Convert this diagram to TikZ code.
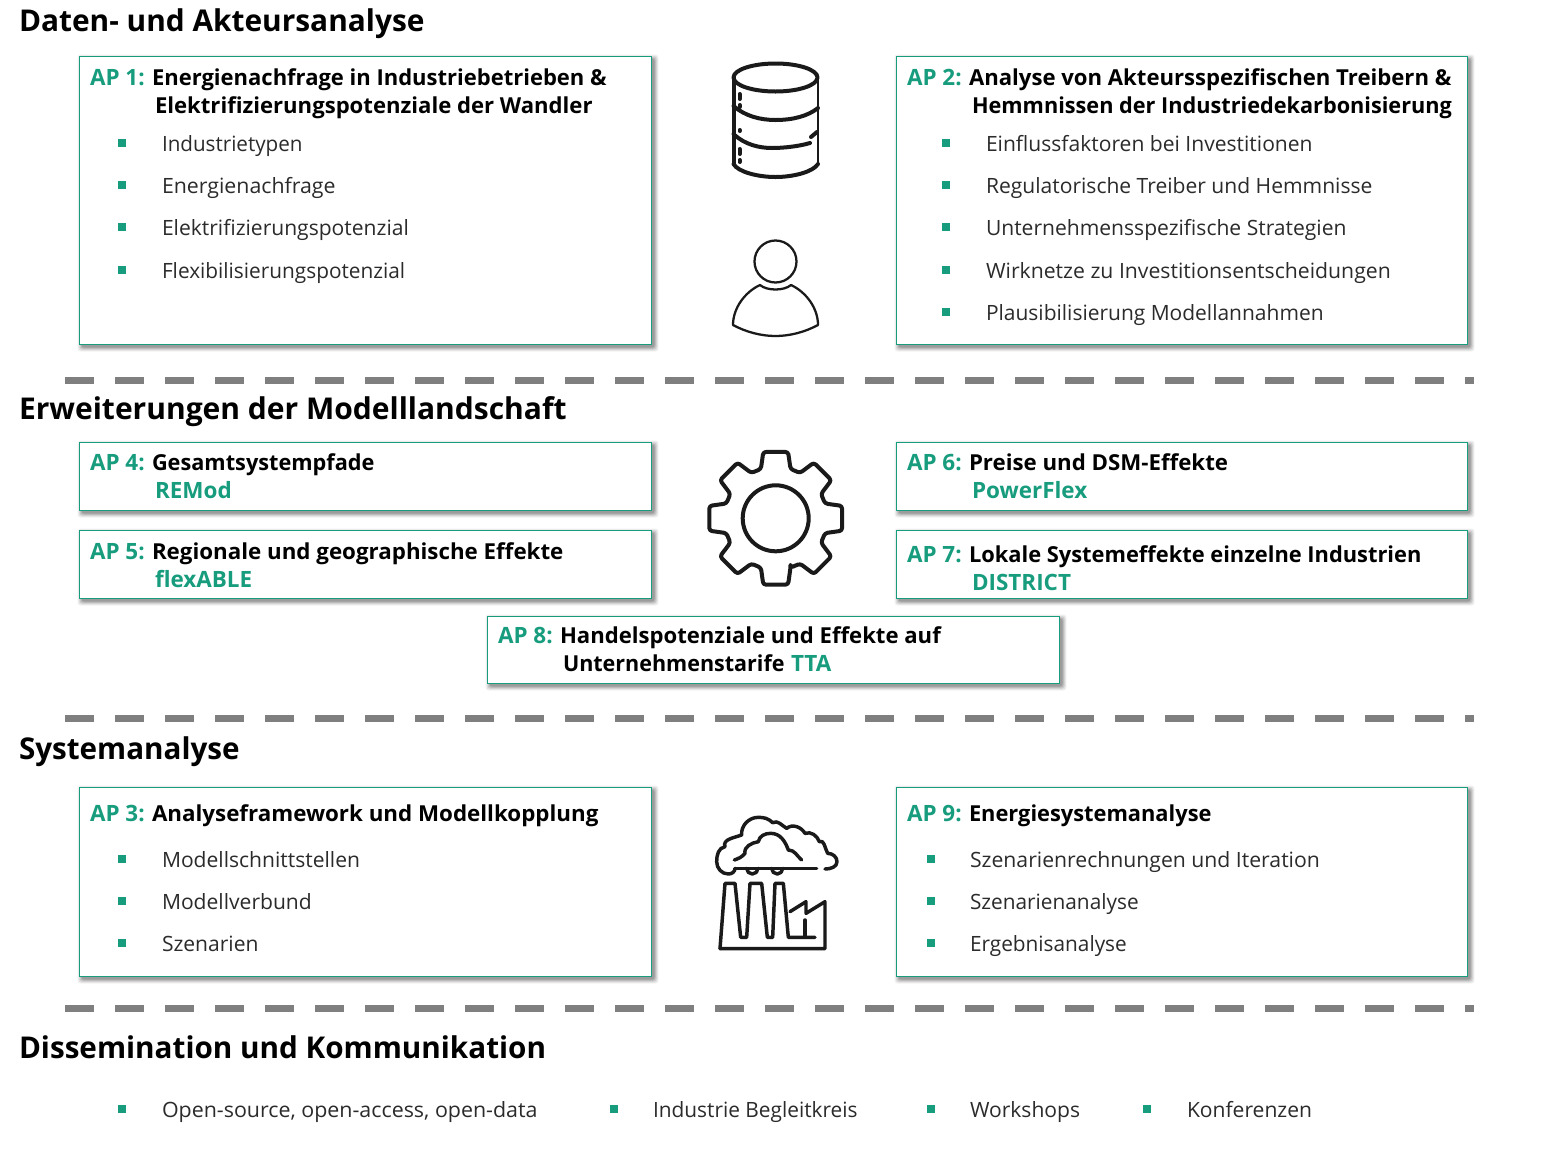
\documentclass[tikz,border=0pt]{standalone}
\usepackage{fontspec}
\setmainfont{Open Sans}
\definecolor{apgreen}{HTML}{179C7D}
\definecolor{dashgrey}{HTML}{7F7F7F}
\definecolor{icon}{HTML}{1A1A1A}
\definecolor{bodytext}{HTML}{2B2B2B}
\newcommand{\sx}[2]{\scalebox{#1}[1]{#2}}
\tikzset{
  txt/.style={anchor=base west,inner sep=0pt,outer sep=0pt},
  sectitle/.style={txt,font=\fontsize{22.5pt}{26pt}\selectfont\bfseries,text=black},
  headtxt/.style={txt,font=\fontsize{16.5pt}{20pt}\selectfont\bfseries,text=black},
  aplabel/.style={txt,font=\fontsize{16.85pt}{20pt}\selectfont\bfseries,text=apgreen},
  bodytxt/.style={txt,font=\fontsize{15.8pt}{20pt}\selectfont,text=bodytext},
  bullet/.style={rectangle,fill=apgreen,minimum size=5.6pt,inner sep=0pt,outer sep=0pt},
  apframe/.style={rectangle,anchor=north west,draw=apgreen,fill=white,line width=.9pt,inner sep=0pt,outer sep=0pt},
  sep/.style={draw=dashgrey,line width=5pt,dash pattern=on 22pt off 15.5pt},
  iconthick/.style={draw=icon,line width=3pt,line cap=round,line join=round},
  iconmid/.style={draw=icon,line width=2.6pt,line cap=round,line join=round},
  iconthin/.style={draw=icon,line width=1.7pt,line cap=round,line join=round},
}
\newcommand{\apbox}[5]{%
  \foreach \d/\o in {5/.05,4/.07,3/.09,2/.11,1/.13}{%
    \fill[black,opacity=\o,rounded corners=2pt]
      ({#2+3-\d},{#3+3-\d}) rectangle ({#2+#4+2+\d},{#3+#5+2+\d});
  }%
  \node[apframe,minimum width=#4*.75pt,minimum height=#5*.75pt] (#1) at (#2,#3) {};
}
\begin{document}
\begin{tikzpicture}[x=0.75pt,y=-0.75pt]
\useasboundingbox (0,0) rectangle (1542,1161);
\fill[white] (0,0) rectangle (1542,1161);

% section titles
\node[sectitle] (t1) at (19,31) {\sx{.995}{Daten- und Akteursanalyse}};
\node[sectitle] (t2) at (19,419) {Erweiterungen der Modelllandschaft};
\node[sectitle] (t3) at (19,759) {\sx{.987}{Systemanalyse}};
\node[sectitle] (t4) at (19,1058) {\sx{.989}{Dissemination und Kommunikation}};

% separators
\coordinate (s1a) at (65,380.5); \coordinate (s1b) at (1474,380.5);
\coordinate (s2a) at (65,718.5); \coordinate (s2b) at (1474,718.5);
\coordinate (s3a) at (65,1008.5); \coordinate (s3b) at (1474,1008.5);
\draw[sep] (s1a) -- (s1b);
\draw[sep] (s2a) -- (s2b);
\draw[sep] (s3a) -- (s3b);

% boxes
\apbox{ap1}{79.5}{56.5}{572}{288}
\apbox{ap2}{896.5}{56.5}{571}{288}
\apbox{ap4}{79.5}{442.5}{572}{68}
\apbox{ap5}{79.5}{530.5}{572}{68}
\apbox{ap6}{896.5}{442.5}{571}{68}
\apbox{ap7}{896.5}{530.5}{571}{68}
\apbox{ap8}{487.5}{616.5}{572}{67}
\apbox{ap3}{79.5}{787.5}{572}{189}
\apbox{ap9}{896.5}{787.5}{571}{189}

% AP1
\node[aplabel] (l1) at (90,85) {AP 1:};
\node[headtxt] (h1a) at (152,85) {Energienachfrage in Industriebetrieben \&};
\node[headtxt] (h1b) at (155,113) {\sx{1.005}{Elektrifizierungspotenziale der Wandler}};
\node[bullet] (b11) at (122,143) {}; \node[bodytxt] (x11) at (162,151) {\sx{.979}{Industrietypen}};
\node[bullet] (b12) at (122,185) {}; \node[bodytxt] (x12) at (162,193) {\sx{1.012}{Energienachfrage}};
\node[bullet] (b13) at (122,227) {}; \node[bodytxt] (x13) at (162,235) {Elektrifizierungspotenzial};
\node[bullet] (b14) at (122,270) {}; \node[bodytxt] (x14) at (162,278) {\sx{.988}{Flexibilisierungspotenzial}};

% AP2
\node[aplabel] (l2) at (907,85) {AP 2:};
\node[headtxt] (h2a) at (969,85) {\sx{1.006}{Analyse von Akteursspezifischen Treibern \&}};
\node[headtxt] (h2b) at (972,113) {\sx{.986}{Hemmnissen der Industriedekarbonisierung}};
\node[bullet] (b21) at (946,143) {}; \node[bodytxt] (x21) at (986,151) {Einflussfaktoren bei Investitionen};
\node[bullet] (b22) at (946,185) {}; \node[bodytxt] (x22) at (986,193) {Regulatorische Treiber und Hemmnisse};
\node[bullet] (b23) at (946,227) {}; \node[bodytxt] (x23) at (986,235) {Unternehmensspezifische Strategien};
\node[bullet] (b24) at (946,270) {}; \node[bodytxt] (x24) at (986,278) {\sx{1.007}{Wirknetze zu Investitionsentscheidungen}};
\node[bullet] (b25) at (946,312) {}; \node[bodytxt] (x25) at (986,320) {\sx{.995}{Plausibilisierung Modellannahmen}};

% AP4-8
\node[aplabel] (l4) at (90,470) {AP 4:};
\node[headtxt] (h4a) at (152,470) {\sx{.987}{Gesamtsystempfade}};
\node[aplabel] (h4b) at (155,498) {REMod};
\node[aplabel] (l5) at (90,559) {AP 5:};
\node[headtxt] (h5a) at (152,559) {\sx{1.015}{Regionale und geographische Effekte}};
\node[aplabel] (h5b) at (155,587) {flexABLE};
\node[aplabel] (l6) at (907,470) {AP 6:};
\node[headtxt] (h6a) at (969,470) {\sx{1.012}{Preise und DSM-Effekte}};
\node[aplabel] (h6b) at (972,498) {PowerFlex};
\node[aplabel] (l7) at (907,562) {AP 7:};
\node[headtxt] (h7a) at (969,562) {\sx{.993}{Lokale Systemeffekte einzelne Industrien}};
\node[aplabel] (h7b) at (972,590) {DISTRICT};
\node[aplabel] (l8) at (498,643) {AP 8:};
\node[headtxt] (h8a) at (560,643) {\sx{1.005}{Handelspotenziale und Effekte auf}};
\node[headtxt] (h8b) at (563,671) {\sx{.978}{Unternehmenstarife}};
\node[aplabel] (h8c) at (791,671) {TTA};

% AP3
\node[aplabel] (l3) at (90,821) {AP 3:};
\node[headtxt] (h3a) at (152,821) {\sx{1.016}{Analyseframework und Modellkopplung}};
\node[bullet] (b31) at (122,859) {}; \node[bodytxt] (x31) at (162,867) {Modellschnittstellen};
\node[bullet] (b32) at (122,901) {}; \node[bodytxt] (x32) at (162,909) {Modellverbund};
\node[bullet] (b33) at (122,943) {}; \node[bodytxt] (x33) at (162,951) {Szenarien};

% AP9
\node[aplabel] (l9) at (907,821) {AP 9:};
\node[headtxt] (h9a) at (969,821) {\sx{.992}{Energiesystemanalyse}};
\node[bullet] (b91) at (931,859) {}; \node[bodytxt] (x91) at (970,867) {\sx{1.006}{Szenarienrechnungen und Iteration}};
\node[bullet] (b92) at (931,901) {}; \node[bodytxt] (x92) at (970,909) {\sx{.988}{Szenarienanalyse}};
\node[bullet] (b93) at (931,943) {}; \node[bodytxt] (x93) at (970,951) {\sx{.987}{Ergebnisanalyse}};

% dissemination
\node[bullet] (d1) at (122,1109) {}; \node[bodytxt] (dx1) at (162,1117) {\sx{1.016}{Open-source, open-access, open-data}};
\node[bullet] (d2) at (614,1109) {}; \node[bodytxt] (dx2) at (653,1117) {\sx{.99}{Industrie Begleitkreis}};
\node[bullet] (d3) at (931,1109) {}; \node[bodytxt] (dx3) at (970,1117) {Workshops};
\node[bullet] (d4) at (1147,1109) {}; \node[bodytxt] (dx4) at (1187,1117) {Konferenzen};

% database icon
\draw[iconthick] (733.5,77.5) -- (733.5,164);
\draw[iconmid,line width=2.1pt] (818,77.5) -- (818,164);
\draw[iconthick] (775.5,77.5) ellipse (42 and 14);
\draw[iconthick] (733.5,164) .. controls (738,172) and (758,177) .. (775.5,177) .. controls (793,177) and (813,172) .. (818,164);
\draw[iconthick] (733.5,106) .. controls (745,116) and (760,120) .. (775.5,120) .. controls (793,120) and (808,116) .. (818,108);
\draw[iconthick] (733.5,134) .. controls (745,145) and (760,148) .. (772,148) .. controls (785,148) and (800,146) .. (810,143);
\draw[iconthick] (811,137) -- (817,132);
\draw[iconthick] (739.5,94) -- (739.5,99);
\draw[iconthick] (739.5,105) -- (739.5,107);
\draw[iconthick] (739.5,130) -- (739.5,131);
\draw[iconthick] (739.5,149) -- (739.5,154);
\draw[iconthick] (739.5,160) -- (739.5,162);

% person icon
\draw[iconthin] (775.5,261.5) circle (21);
\draw[iconthin] (760,285) .. controls (767,291) and (784,291) .. (791,285)
  .. controls (806,292) and (818,308) .. (818,325)
  .. controls (805,332) and (790,336) .. (775.5,336)
  .. controls (761,336) and (746,332) .. (733,325)
  .. controls (733,308) and (745,292) .. (760,285) -- cycle;

% gear icon
\begin{scope}[shift={(775.7,518.3)}]
\draw[iconmid,line width=3pt] (0,0) circle (33);
\draw[iconmid,line width=3pt,rounded corners=2pt]
  (73.3:51.5) \foreach \a in {90,135,180,225,270,315,360,405}{
    -- (\a-16.7:51.5) -- (\a-10.6:67.5) -- (\a+10.6:67.5) -- (\a+16.7:51.5)
  } -- cycle;
\end{scope}

% factory icon
\begin{scope}[shift={(700,800)},x=.25pt,y=-.25pt]
\draw[iconmid]
  (105,205) to[out=270,in=0] (85,222) to[out=180,in=270] (50,185) to[out=90,in=190] (75,140)
  to[out=110,in=200] (125,105)
  to[out=95,in=180] (175,52) to[out=0,in=135] (218,68)
  to[out=30,in=150] (260,85)
  to[out=40,in=120] (315,100)
  to[out=20,in=110] (358,125)
  to[out=30,in=120] (383,160)
  to[out=0,in=90] (411,185) to[out=270,in=0] (375,207);
\draw[iconmid] (105,205) -- (350,205);
\draw[iconmid] (103,180) to[out=20,in=230] (135,160) to[out=100,in=190] (175,125)
  to[out=80,in=180] (212,100) to[out=0,in=110] (265,150)
  to[out=0,in=140] (305,180);
\draw[iconmid] (140,205) to[out=270,in=180] (157,222) to[out=0,in=270] (174,205);
\draw[iconmid] (215,205) to[out=270,in=180] (232,222) to[out=0,in=270] (248,205);
\draw[iconmid] (60,446) -- (75,250) -- (105,250) -- (122,412) -- (140,412) -- (150,250) -- (185,250)
  -- (202,412) -- (218,412) -- (225,250) -- (250,250) -- (265,412) -- (345,412);
\draw[iconmid] (60,446) -- (375,446) -- (375,305) -- (318,340) -- (318,305) -- (270,335);
\draw[iconmid] (315,360) -- (315,412);
\end{scope}
\end{tikzpicture}
\end{document}
